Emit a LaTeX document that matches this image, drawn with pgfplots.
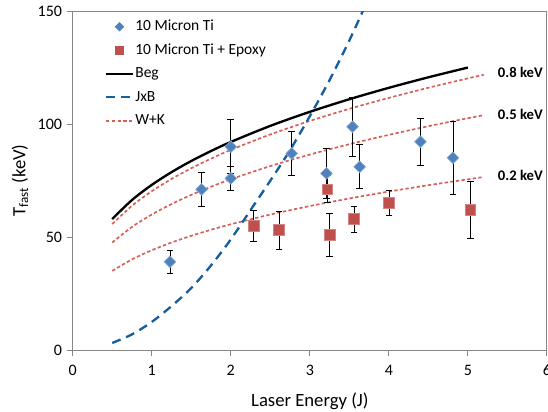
\documentclass[border=0pt]{standalone}
\usepackage{pgfplots}
\pgfplotsset{compat=1.18}
\usepackage{fontspec}
\setmainfont{Carlito}
\definecolor{tiblue}{RGB}{79,129,189}
\definecolor{epred}{RGB}{192,80,77}
\definecolor{wkred}{RGB}{214,96,88}
\definecolor{jxb}{RGB}{22,94,160}
\definecolor{axgray}{RGB}{134,134,134}
\begin{document}
\begin{tikzpicture}
\begin{axis}[
  scale only axis, width=355.5pt, height=254.25pt,
  xmin=0, xmax=6, ymin=0, ymax=150,
  xtick={0,1,2,3,4,5,6}, ytick={0,50,100,150},
  axis line style={axgray, line width=0.75pt},
  tick style={axgray, line width=0.75pt},
  tick align=outside, tick pos=left, major tick length=4.5pt,
  /pgf/number format/assume math mode=true,
  ticklabel style={font=\fontsize{12}{14}\selectfont, text=black},
  xticklabel style={yshift=-3pt},
  xlabel={Laser Energy (J)},
  ylabel={T\textsubscript{fast} (keV)},
  label style={font=\fontsize{14}{16}\selectfont},
  xlabel style={at={(axis description cs:0.5,-0.1652)}, anchor=base},
  ylabel style={at={(axis description cs:-0.1111,0.5)}, anchor=center},
  legend style={draw=none, fill=none, at={(axis description cs:0.0675,0.976)}, anchor=north west,
    font=\fontsize{11.6}{13}\selectfont, row sep=6.6pt, inner sep=0pt,
    nodes={inner xsep=1pt, inner ysep=0pt, text height=8.5pt, text depth=2.5pt}},
  legend cell align=left,
  legend image code/.code={\draw[mark repeat=2,mark phase=2,#1] plot coordinates {(0pt,0pt)(10pt,0pt)(20pt,0pt)};},
  error bars/error bar style={black, line width=0.6pt},
  error bars/error mark options={rotate=90, mark size=2.5pt, black, line width=0.6pt},
]
% legend images
\addlegendimage{only marks, mark=square*, mark size=2.3pt, mark options={rotate=45, fill=tiblue, draw=tiblue}}
\addlegendentry{10 Micron Ti}
\addlegendimage{only marks, mark=square*, mark size=2.9pt, mark options={fill=epred, draw=epred}}
\addlegendentry{10 Micron Ti + Epoxy}
\addlegendimage{black, line width=1.75pt}
\addlegendentry{Beg}
\addlegendimage{jxb, line width=1.75pt, dash pattern=on 6.75pt off 4.5pt}
\addlegendentry{JxB}
\addlegendimage{wkred, line width=1.25pt, dash pattern=on 2.5pt off 1.75pt}
\addlegendentry{W+K}

% W+K curves
\addplot[wkred, line width=1.25pt, dash pattern=on 2.5pt off 1.75pt, smooth, forget plot] coordinates {
 (0.5,55.80) (0.75,63.87) (1.0,70.30) (1.25,75.73) (1.5,80.47) (1.75,84.72) (2.0,88.57)
 (2.5,95.41) (3.0,101.39) (3.5,106.74) (4.0,111.59) (4.5,116.07) (5.0,120.21) (5.2,121.79)};
\addplot[wkred, line width=1.25pt, dash pattern=on 2.5pt off 1.75pt, smooth, forget plot] coordinates {
 (0.5,47.62) (0.75,54.52) (1.0,60.00) (1.25,64.63) (1.5,68.68) (1.75,72.31) (2.0,75.59)
 (2.5,81.43) (3.0,86.53) (3.5,91.10) (4.0,95.24) (4.5,99.06) (5.0,102.60) (5.2,103.95)};
\addplot[wkred, line width=1.25pt, dash pattern=on 2.5pt off 1.75pt, smooth, forget plot] coordinates {
 (0.5,35.08) (0.75,40.16) (1.0,44.20) (1.25,47.61) (1.5,50.60) (1.75,53.27) (2.0,55.69)
 (2.5,59.99) (3.0,63.75) (3.5,67.11) (4.0,70.16) (4.5,72.97) (5.0,75.58) (5.2,76.58)};
% Beg
\addplot[black, line width=1.75pt, smooth, forget plot] coordinates {
 (0.5,58.02) (0.75,66.42) (1.0,73.10) (1.25,78.74) (1.5,83.68) (1.75,88.09) (2.0,92.10)
 (2.5,99.21) (3.0,105.42) (3.5,110.99) (4.0,116.04) (4.5,120.69) (5.0,125.00)};
% JxB
\addplot[jxb, line width=1.75pt, dash pattern=on 6.75pt off 4.5pt, smooth, forget plot] coordinates {
 (0.5,3.2) (0.75,7.0) (1.0,12.5) (1.25,19.5) (1.5,27.5) (1.75,37.5) (2.0,49.0) (2.25,62.0)
 (2.5,75.0) (2.75,88.5) (3.0,103.5) (3.25,119.5) (3.5,137.0) (3.67,150.0)};

% 10 Micron Ti + Epoxy
\addplot[only marks, mark=square*, mark size=4.0pt, mark options={fill=epred, draw=epred!70!white, line width=0.5pt},
  error bars/.cd, y dir=both, y explicit] coordinates {
 (2.29,55.0) +- (0,7.0)
 (2.61,53.1) +- (0,8.4)
 (3.22,71.2) +- (0,6.0)
 (3.25,51.0) +- (0,9.5)
 (3.56,58.0) +- (0,5.7)
 (4.00,65.2) +- (0,5.5)
 (5.03,62.0) +- (0,12.6)};
\pgfplotsset{forget plot}
% 10 Micron Ti
\addplot[only marks, mark=square*, mark size=3.1pt, mark options={rotate=45, fill=tiblue, draw=tiblue!70!white, line width=0.5pt},
  error bars/.cd, y dir=both, y explicit] coordinates {
 (1.23,39.1) +- (0,5.0)
 (1.63,71.1) +- (0,7.7)
 (2.00,76.0) +- (0,5.2)
 (2.00,90.0) +- (0,12.0)
 (2.77,87.0) +- (0,9.6)
 (3.21,78.2) +- (0,11.0)
 (3.54,98.8) +- (0,13.0)
 (3.63,81.1) +- (0,9.7)
 (4.40,92.2) +- (0,10.3)
 (4.81,85.1) +- (0,16.0)};

\node[anchor=west, inner sep=0pt, font=\fontsize{11}{13}\selectfont\bfseries] at (axis cs:5.376,122.7) {0.8 keV};
\node[anchor=west, inner sep=0pt, font=\fontsize{11}{13}\selectfont\bfseries] at (axis cs:5.376,104.3) {0.5 keV};
\node[anchor=west, inner sep=0pt, font=\fontsize{11}{13}\selectfont\bfseries] at (axis cs:5.376,77.4) {0.2 keV};
\end{axis}
\pgfresetboundingbox
\path[use as bounding box] (-54.5pt,-45.75pt) rectangle (356.25pt,262.5pt);
\end{tikzpicture}
\end{document}
